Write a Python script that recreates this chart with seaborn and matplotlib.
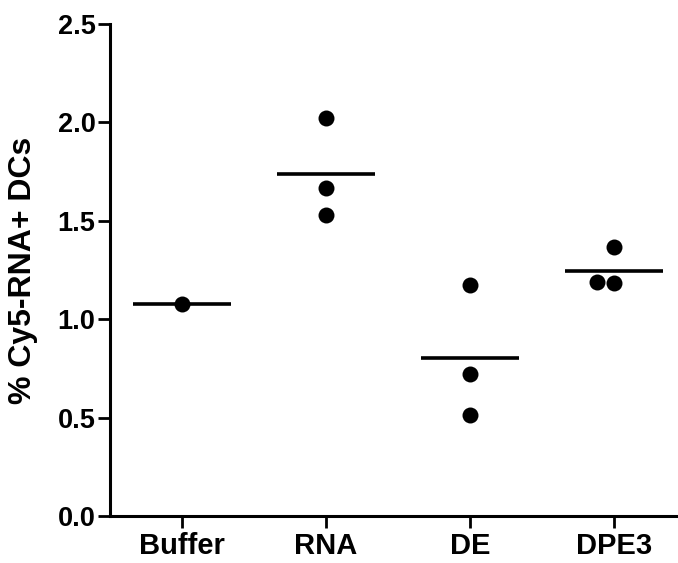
import matplotlib
matplotlib.use("Agg")
import matplotlib.pyplot as plt
import seaborn as sns
import pandas as pd

groups = ["Buffer", "RNA", "DE", "DPE3"]
buffer_vals = [1.077]
rna_vals = [2.021, 1.665, 1.529]
de_vals = [1.174, 0.722, 0.513]
dpe3_vals = [1.368, 1.182, 1.190]
y_ticks = [0.0, 0.5, 1.0, 1.5, 2.0, 2.5]
y_label = "% Cy5-RNA+ DCs"

sns.set_theme(style="ticks")
plt.rcParams["font.family"] = ["Liberation Sans", "DejaVu Sans"]
plt.rcParams["font.weight"] = "bold"

rows = []
for g, vals in zip(groups, [buffer_vals, rna_vals, de_vals, dpe3_vals]):
    for v in vals:
        rows.append({"group": g, "value": v})
df = pd.DataFrame(rows)

fig = plt.figure(figsize=(6.78, 5.63), dpi=100)
ax = fig.add_axes([110 / 678, 47 / 563, 568 / 678, 492 / 563])

sns.swarmplot(data=df, x="group", y="value", order=groups, color="black",
              size=11.5, ax=ax, zorder=3)

means = df.groupby("group")["value"].mean().reindex(groups)
for i, m in enumerate(means.values):
    ax.hlines(m, i - 0.34, i + 0.34, colors="black", linewidth=2.6, zorder=2)

ax.set_xlim(-0.5, 3.447)
ax.set_ylim(0, 2.5)
ax.set_yticks(y_ticks)
ax.set_yticklabels([f"{t:.1f}" for t in y_ticks], fontsize=19.5, fontweight="bold")
ax.set_xticks(range(len(groups)))
ax.set_xticklabels(groups, fontsize=21, fontweight="bold")
ax.set_xlabel("")
ax.set_ylabel(y_label, fontsize=23, fontweight="bold", labelpad=14, color="black")

for s in ["top", "right"]:
    ax.spines[s].set_visible(False)
for s in ["left", "bottom"]:
    ax.spines[s].set_linewidth(2.2)
    ax.spines[s].set_color("black")
ax.tick_params(axis="both", width=2.0, length=8.5, color="black", labelcolor="black")
ax.tick_params(axis="y", pad=2)
ax.tick_params(axis="x", pad=3)

fig.savefig("out.png", dpi=100)
